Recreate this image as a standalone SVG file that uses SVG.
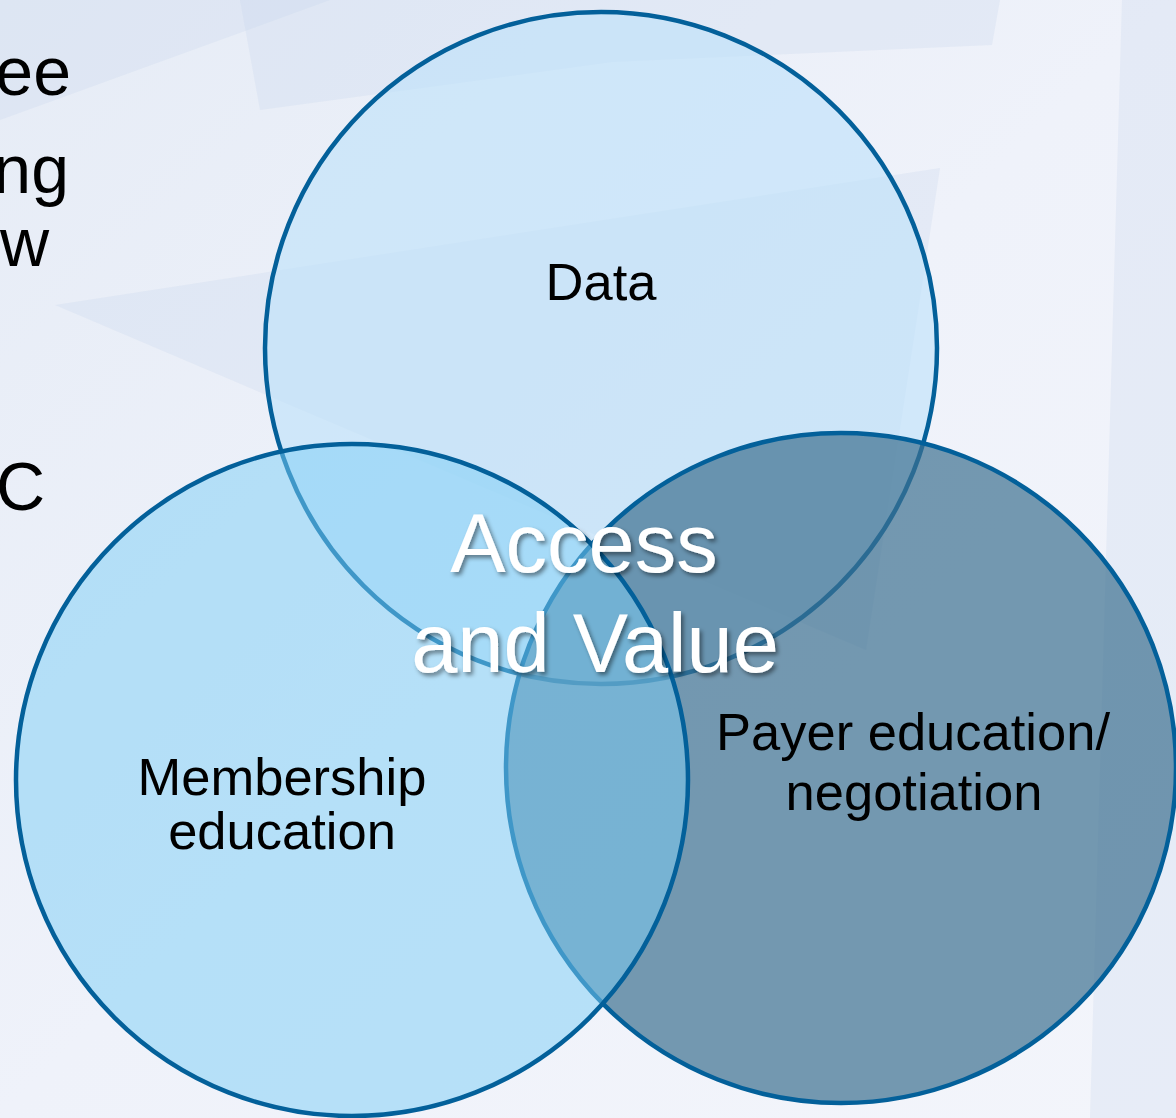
<svg xmlns="http://www.w3.org/2000/svg" width="1176" height="1118" viewBox="0 0 1176 1118">
  <defs>
    <linearGradient id="bg" x1="0" y1="0" x2="1" y2="1">
      <stop offset="0" stop-color="#e6ecf6"/>
      <stop offset="0.5" stop-color="#eff2fa"/>
      <stop offset="1" stop-color="#f3f5fb"/>
    </linearGradient>
    <filter id="shadow" x="-10%" y="-20%" width="130%" height="150%">
      <feDropShadow dx="2.5" dy="3" stdDeviation="2" flood-color="#000000" flood-opacity="0.45"/>
    </filter>
  </defs>
  <style>
    .streak { fill: #c5d3ea; opacity: 0.25; }
    .ring { stroke: #03609a; stroke-width: 4.5; }
    .label { font-family: "Liberation Sans", Arial, sans-serif; font-size: 52.5px; fill: #000000; text-anchor: middle; }
    .slide { font-family: "Liberation Sans", Arial, sans-serif; font-size: 68px; fill: #000000; text-anchor: end; }
    .center { font-family: "Liberation Sans", Arial, sans-serif; font-size: 83px; fill: #ffffff; text-anchor: middle; }
  </style>

  <!-- background -->
  <rect x="0" y="0" width="1176" height="1118" fill="url(#bg)"/>
  <g id="background-streaks">
    <polygon class="streak" points="0,0 330,0 0,120"/>
    <polygon class="streak" points="240,0 1000,0 992,45 612,62 260,110"/>
    <polygon class="streak" points="55,305 940,168 866,650"/>
    <polygon class="streak" points="1122,0 1176,0 1176,1118 1090,1118" opacity="0.15"/>
  </g>

  <!-- partially visible slide text -->
  <g id="slide-text">
    <text class="slide" x="71" y="95">ee</text>
    <text class="slide" x="69" y="193">ng</text>
    <text class="slide" x="49" y="266">ow</text>
    <text class="slide" x="45" y="510">C</text>
  </g>

  <g id="node-data">
    <circle class="ring" cx="601" cy="348" r="336" fill="#bde1fa" fill-opacity="0.6"/>
    <text class="label" x="601" y="300">Data</text>
  </g>

  <g id="node-payer">
    <circle class="ring" cx="841" cy="768" r="335" fill="#3d7090" fill-opacity="0.7"/>
    <text class="label" x="913" y="750">Payer education/</text>
    <text class="label" x="914" y="810">negotiation</text>
  </g>

  <g id="node-membership">
    <circle class="ring" cx="352" cy="780" r="336" fill="#7ccef6" fill-opacity="0.5"/>
    <text class="label" x="282" y="795">Membership</text>
    <text class="label" x="282" y="849">education</text>
  </g>

  <g id="node-center" filter="url(#shadow)">
    <text class="center" x="584" y="572">Access</text>
    <text class="center" x="595" y="672">and Value</text>
  </g>

  <g id="connectors"/>
</svg>
